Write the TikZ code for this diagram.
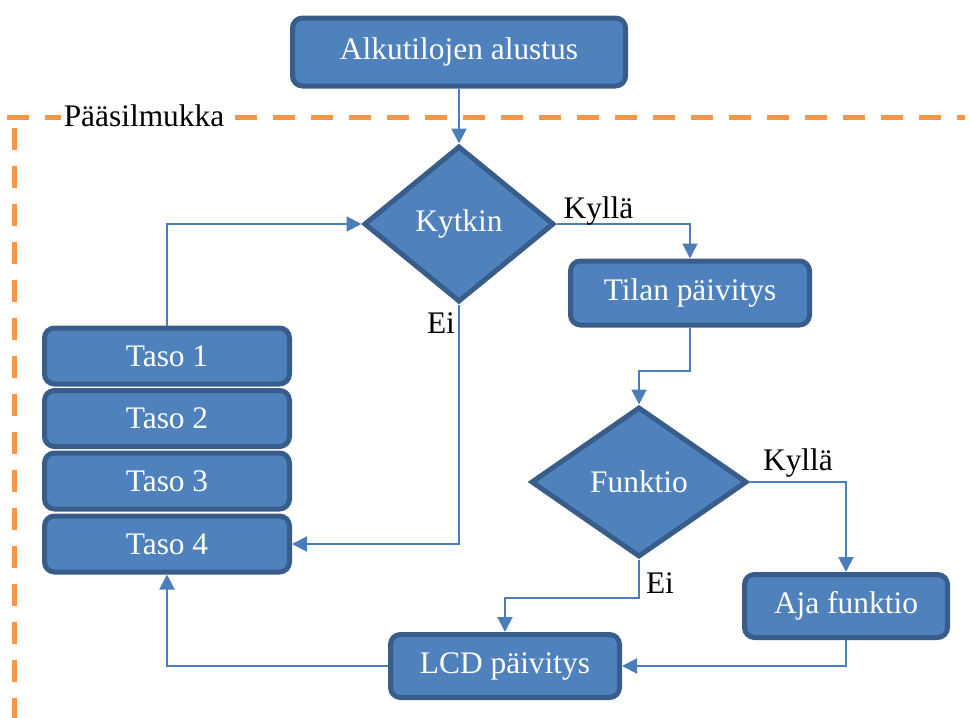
\documentclass[tikz,border=0pt]{standalone}
\usepackage{fontspec}
\setmainfont{Liberation Serif}
\usetikzlibrary{shapes.geometric,arrows.meta}

\tikzset{every picture/.style={line width=0.75pt}}
\tikzset{
	box/.style={draw={rgb, 255:red, 56; green, 93; blue, 138}, fill={rgb, 255:red, 79; green, 129; blue, 189},
		line width=2.5pt, rounded corners=5pt, text=white, font=\rmfamily\fontsize{15.7}{18}\selectfont, inner sep=0pt},
	choice/.style={box, shape=diamond, sharp corners, aspect=1.4},
	flow/.style={draw={rgb, 255:red, 74; green, 126; blue, 187}, line width=1pt, -{Triangle[length=7.5pt,width=7.5pt]}},
	lbl/.style={font=\rmfamily\fontsize{15.7}{18}\selectfont, anchor=base, inner sep=0pt},
	loopline/.style={draw={rgb, 255:red, 247; green, 150; blue, 70}, line width=2.5pt, dash pattern=on 11pt off 8pt}}

\begin{document}
\begin{tikzpicture}[x=0.5pt,y=0.5pt,yscale=-1,xscale=1]
	\useasboundingbox (0,0) rectangle (970,718);

	%Dashed Lines: main loop
	\draw [loopline] (7,117) -- (965,117) ;
	\draw [loopline] (14,128) -- (14,718) ;
	% Text Node
	\node [lbl, fill=white, inner xsep=1.5pt] (paasilmukka) at (144,126) {Pääsilmukka};

	%Shape: Rounded Rectangles
	\node [box, minimum width=166.5pt, minimum height=34pt] (alku) at (459,52) {Alkutilojen alustus};
	\node [box, minimum width=119.5pt, minimum height=32pt] (tila) at (690,293) {Tilan päivitys};
	\node [box, minimum width=101.5pt, minimum height=31.5pt] (aja) at (846,606) {Aja funktio};
	\node [box, minimum width=114.5pt, minimum height=31.5pt] (lcd) at (505,666) {LCD päivitys};
	\node [box, minimum width=122.5pt, minimum height=28pt] (taso1) at (167,356) {Taso 1};
	\node [box, minimum width=122.5pt, minimum height=28pt] (taso2) at (167,418.5) {Taso 2};
	\node [box, minimum width=122.5pt, minimum height=28pt] (taso3) at (167,481) {Taso 3};
	\node [box, minimum width=122.5pt, minimum height=28pt] (taso4) at (167,544) {Taso 4};

	%Shape: Diamonds
	\node [choice, minimum width=95pt, minimum height=78pt] (kytkin) at (459,224) {Kytkin};
	\node [choice, minimum width=108pt, minimum height=75pt] (funktio) at (639,482) {Funktio};

	%Straight Lines
	\draw [flow] (alku.south) -- (kytkin.north) ;
	\draw [flow] (kytkin.east) -| (tila.north) ;
	\draw [flow] (tila.south) -- ++(0,43) -| (funktio.north) ;
	\draw [flow] (funktio.east) -| (aja.north) ;
	\draw [flow] (funktio.south) -- ++(0,38) -| (lcd.north) ;
	\draw [flow] (aja.south) |- (lcd.east) ;
	\draw [flow] (lcd.west) -| (taso4.south) ;
	\draw [flow] (taso1.north) |- (kytkin.west) ;
	\draw [flow] (kytkin.south) |- (taso4.east) ;

	% Text Nodes
	\node [lbl] (kylla1) at (598.5,218) {Kyllä};
	\node [lbl] (ei1) at (441,333) {Ei};
	\node [lbl] (kylla2) at (798,470) {Kyllä};
	\node [lbl] (ei2) at (660,593) {Ei};

\end{tikzpicture}
\end{document}
